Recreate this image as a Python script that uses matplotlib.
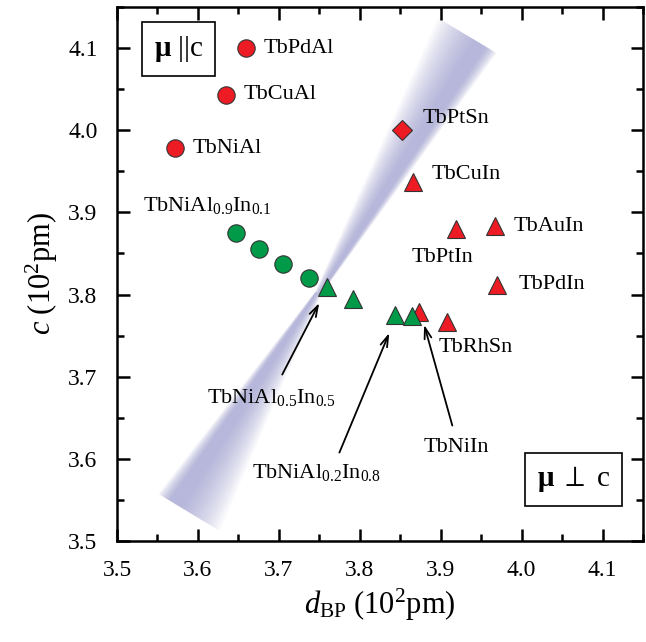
import numpy as np
import matplotlib
matplotlib.use("Agg")
import matplotlib.pyplot as plt

plt.rcParams['font.family'] = ['Liberation Serif', 'DejaVu Serif']
plt.rcParams['mathtext.fontset'] = 'custom'
plt.rcParams['mathtext.rm'] = 'Liberation Serif'
plt.rcParams['mathtext.it'] = 'Liberation Serif:italic'
plt.rcParams['mathtext.bf'] = 'Liberation Serif:bold'

# --- données (d_BP, c en 10^2 pm) ---
al_names = ['TbPdAl', 'TbCuAl', 'TbNiAl']
al_d = [3.660, 3.635, 3.572]
al_c = [4.100, 4.043, 3.978]

ptsn_d = [3.852]
ptsn_c = [4.000]

in_names = ['TbCuIn', 'TbPtIn', 'TbAuIn', 'TbPdIn', 'TbNiIn', 'TbRhSn']
in_d = [3.866, 3.919, 3.967, 3.970, 3.873, 3.908]
in_c = [3.937, 3.880, 3.884, 3.812, 3.779, 3.766]

mix_circ_d = [3.647, 3.675, 3.705, 3.737]
mix_circ_c = [3.875, 3.856, 3.837, 3.820]
mix_tri_d = [3.760, 3.792, 3.843, 3.864]
mix_tri_c = [3.809, 3.795, 3.775, 3.774]

# bande (cône) : extrémités et point de croisement
band_low = (3.589, 3.535)
band_waist = (3.748, 3.801)
band_high = (3.933, 4.115)
band_hw_low, band_hw_waist, band_hw_high = 0.044, 0.004, 0.042

red = '#ed1c24'
green = '#009a48'

fig = plt.figure(figsize=(6.46, 6.42), dpi=100)
ax = fig.add_axes([117/646, 101/642, 526/646, 534/642])
ax.set_xlim(3.5, 4.145)
ax.set_ylim(3.5, 4.15)


def band_poly(p0, p1, w0, w1, f):
    # maximum près du côté -n (bord assez net), long dégradé vers +n
    p0 = np.array(p0); p1 = np.array(p1)
    d = p1 - p0
    n = np.array([-d[1], d[0]]) / np.hypot(*d)
    k = 0.35
    sharp = k * (0.45 + 0.55*f)
    soft = (1 - k) * f
    c0 = p0 + n*(-w0 + 2*w0*k)
    c1 = p1 + n*(-w1 + 2*w1*k)
    return np.array([c0 + n*2*w0*soft, c1 + n*2*w1*soft,
                     c1 - n*2*w1*sharp, c0 - n*2*w0*sharp])


for f in np.linspace(1.0, 0.05, 18):
    for end, hw in [(band_low, band_hw_low), (band_high, band_hw_high)]:
        poly = band_poly(band_waist, end, band_hw_waist, hw, f)
        ax.fill(poly[:, 0], poly[:, 1], color='#9a9ad0', alpha=0.06, lw=0, zorder=1)

mk = dict(ls='none', markeredgecolor='#333333', markeredgewidth=0.8, zorder=3)
ax.plot(al_d, al_c, marker='o', ms=12.5, color=red, **mk)
ax.plot(ptsn_d, ptsn_c, marker='D', ms=10.5, color=red, **mk)
ax.plot(in_d, in_c, marker='^', ms=13.5, color=red, **mk)
ax.plot(mix_circ_d, mix_circ_c, marker='o', ms=12.5, color=green, **mk)
ax.plot(mix_tri_d, mix_tri_c, marker='^', ms=13.5, color=green, **mk)

fs = 16
lab = dict(fontsize=fs, va='center', ha='left')
ax.text(3.681, 4.100, 'TbPdAl', **lab)
ax.text(3.657, 4.043, 'TbCuAl', **lab)
ax.text(3.593, 3.978, 'TbNiAl', **lab)
ax.text(3.877, 4.014, 'TbPtSn', **lab)
ax.text(3.889, 3.946, 'TbCuIn', **lab)
ax.text(3.990, 3.883, 'TbAuIn', **lab)
ax.text(3.864, 3.845, 'TbPtIn', **lab)
ax.text(3.996, 3.812, 'TbPdIn', **lab)
ax.text(3.897, 3.736, 'TbRhSn', **lab)
ax.text(3.919, 3.614, 'TbNiIn', fontsize=fs, va='center', ha='center')
ax.text(3.532, 3.908, r'TbNiAl$_{0.9}$In$_{0.1}$', **lab)
ax.text(3.611, 3.675, r'TbNiAl$_{0.5}$In$_{0.5}$', **lab)
ax.text(3.667, 3.583, r'TbNiAl$_{0.2}$In$_{0.8}$', **lab)

arr = dict(arrowstyle='->,head_length=0.8,head_width=0.25', color='black', lw=1.3)
ax.annotate('', xy=(3.7515, 3.7928), xytext=(3.7026, 3.6996), arrowprops=arr)
ax.annotate('', xy=(3.8378, 3.7564), xytext=(3.7735, 3.6045), arrowprops=arr)
ax.annotate('', xy=(3.8786, 3.7665), xytext=(3.9153, 3.6373), arrowprops=arr)

box = dict(boxstyle='square,pad=0.4', fc='white', ec='black', lw=1.2)
ax.text(3.576, 4.099, r'$\mathbf{\mu}$ ||c', fontsize=21, ha='center', va='center', bbox=box, zorder=5)
ax.text(4.064, 3.575, r'$\mathbf{\mu}\ \perp\ $c', fontsize=21, ha='center', va='center', bbox=box, zorder=5)

ax.set_xticks(np.arange(3.5, 4.11, 0.1))
ax.set_yticks(np.arange(3.5, 4.11, 0.1))
ax.set_xticks(np.arange(3.55, 4.15, 0.1), minor=True)
ax.set_yticks(np.arange(3.55, 4.15, 0.1), minor=True)
ax.xaxis.set_major_formatter(matplotlib.ticker.FormatStrFormatter('%.1f'))
ax.yaxis.set_major_formatter(matplotlib.ticker.FormatStrFormatter('%.1f'))
ax.tick_params(which='both', direction='in', top=True, right=True, labelsize=17, width=1.8)
ax.tick_params(which='major', length=9)
ax.tick_params(axis='x', which='major', pad=14)
ax.tick_params(axis='y', which='major', pad=14)
ax.tick_params(which='minor', length=5)
for s in ax.spines.values():
    s.set_linewidth(1.8)

ax.set_xlabel(r'$d_{\mathrm{BP}}\ (10^{2}\mathrm{pm})$', fontsize=22, labelpad=4)
ax.set_ylabel(r'$c\ (10^{2}\mathrm{pm})$', fontsize=22, labelpad=6)

fig.savefig('out.png', dpi=100)
